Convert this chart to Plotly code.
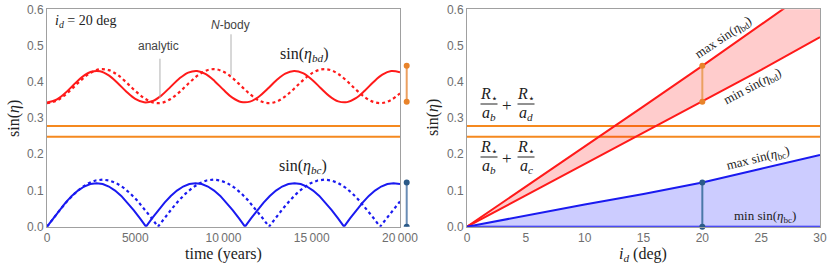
import plotly.graph_objects as go

# ---------------- Left panel data ----------------
time_red = list(range(0, 20001, 500))
red_analytic = [0.343, 0.3497, 0.3675, 0.3912, 0.4135, 0.4275, 0.4290, 0.4175, 0.3965, 0.3725,
                0.3527, 0.3433, 0.3471, 0.3629, 0.3859, 0.4091, 0.4254, 0.4298, 0.4210, 0.4017,
                0.3777, 0.3564, 0.3443, 0.3451, 0.3586, 0.3806, 0.4043, 0.4227, 0.4300, 0.4240,
                0.4065, 0.3830, 0.3605, 0.3459, 0.3438, 0.3547, 0.3753, 0.3994, 0.4195, 0.4295,
                0.4264]
red_nbody = [0.341, 0.3467, 0.3626, 0.3846, 0.4075, 0.4256, 0.4345, 0.4321, 0.4189, 0.3981,
             0.3749, 0.3549, 0.3430, 0.3420, 0.3523, 0.3714, 0.3944, 0.4160, 0.4306, 0.4349,
             0.4277, 0.4108, 0.3884, 0.3658, 0.3487, 0.3412, 0.3451, 0.3595, 0.3809, 0.4040,
             0.4232, 0.4338, 0.4332, 0.4216, 0.4018, 0.3785, 0.3577, 0.3442, 0.3414, 0.3500,
             0.3679]

time_blue_an = [0, 351, 701, 1052, 1403, 1753, 2104, 2454, 2805, 3156, 3506, 3857, 4208, 4558, 4909, 5259,
                5610, 5961, 6311, 6662, 7013, 7363, 7714, 8064, 8415, 8766, 9116, 9467, 9818, 10168, 10519, 10869,
                11220, 11571, 11921, 12272, 12623, 12973, 13324, 13674, 14025, 14376, 14726, 15077, 15428, 15778, 16129, 16479,
                16830, 17181, 17531, 17882, 18233, 18583, 18934, 19284, 19635, 20000]
blue_analytic = [0, 0.0234, 0.0459, 0.0667, 0.0849, 0.0998, 0.1109, 0.1177, 0.12, 0.1177, 0.1109, 0.0998, 0.0849, 0.0667, 0.0459, 0.0234,
                 0, 0.0234, 0.0459, 0.0667, 0.0849, 0.0998, 0.1109, 0.1177, 0.12, 0.1177, 0.1109, 0.0998, 0.0849, 0.0667, 0.0459, 0.0234,
                 0, 0.0234, 0.0459, 0.0667, 0.0849, 0.0998, 0.1109, 0.1177, 0.12, 0.1177, 0.1109, 0.0998, 0.0849, 0.0667, 0.0459, 0.0234,
                 0, 0.0234, 0.0459, 0.0667, 0.0849, 0.0998, 0.1109, 0.1177, 0.12, 0.1175]

time_blue_nb = [0, 393, 786, 1179, 1573, 1966, 2359, 2752, 3145, 3538, 3931, 4324, 4718, 5111, 5504, 5897,
                6290, 6683, 7076, 7469, 7863, 8256, 8649, 9042, 9435, 9828, 10221, 10614, 11008, 11401, 11794, 12187,
                12580, 12973, 13366, 13759, 14153, 14546, 14939, 15332, 15725, 16118, 16511, 16904, 17298, 17691, 18084, 18477,
                18870, 19263, 19656, 20000]
blue_nbody = [0, 0.0254, 0.0497, 0.0722, 0.0919, 0.1081, 0.1201, 0.1275, 0.13, 0.1275, 0.1201, 0.1081, 0.0919, 0.0722, 0.0497, 0.0254,
              0, 0.0254, 0.0497, 0.0722, 0.0919, 0.1081, 0.1201, 0.1275, 0.13, 0.1275, 0.1201, 0.1081, 0.0919, 0.0722, 0.0497, 0.0254,
              0, 0.0254, 0.0497, 0.0722, 0.0919, 0.1081, 0.1201, 0.1275, 0.13, 0.1275, 0.1201, 0.1081, 0.0919, 0.0722, 0.0497, 0.0254,
              0, 0.0254, 0.0497, 0.0697]

thresholds = [0.278, 0.248]          # R*/ab + R*/ad , R*/ab + R*/ac
bd_range_20 = [0.345, 0.444]
bc_range_20 = [0.0, 0.122]
time_ticks = [0, 5000, 10000, 15000, 20000]
time_ticklabels = ["0", "5000", "10\u2009000", "15\u2009000", "20\u2009000"]

# ---------------- Right panel data ----------------
incl = [0, 5, 10, 15, 20, 25, 30]
max_bd = [0, 0.110, 0.221, 0.332, 0.444, 0.558, 0.672]
min_bd = [0, 0.0862, 0.1725, 0.259, 0.345, 0.433, 0.523]
max_bc = [0, 0.031, 0.061, 0.090, 0.122, 0.160, 0.198]
min_bc = [0, 0, 0, 0, 0, 0, 0]
incl_sel = 20

RED = "#FF1A1A"
BLUE = "#1A1AF0"
ORANGE = "#F5891F"
BAR_OR_LINE, BAR_OR_DOT = "#EBA060", "#E8832A"
BAR_BL_LINE, BAR_BL_DOT = "#6A8DB5", "#2B5A88"
SERIF = "Liberation Serif, DejaVu Serif, serif"
SANS = "Liberation Sans, Arial, sans-serif"

W, H = 831, 269
top_px, bot_px = 9.3, 226.7
ydom = [1 - bot_px / H, 1 - top_px / H]
xdom1 = [47 / W, 400 / W]
xdom2 = [467 / W, 820 / W]

fig = go.Figure()

# Left panel traces
for th in thresholds:
    fig.add_trace(go.Scatter(x=[time_ticks[0], time_ticks[-1]], y=[th, th], mode="lines",
                             line=dict(color=ORANGE, width=2), xaxis="x", yaxis="y", showlegend=False))
fig.add_trace(go.Scatter(x=time_red, y=red_nbody, mode="lines", line=dict(color=RED, width=2.2, dash="dot", shape="spline"),
                         xaxis="x", yaxis="y", showlegend=False))
fig.add_trace(go.Scatter(x=time_red, y=red_analytic, mode="lines", line=dict(color=RED, width=2, shape="spline"),
                         xaxis="x", yaxis="y", showlegend=False))
fig.add_trace(go.Scatter(x=time_blue_nb, y=blue_nbody, mode="lines", line=dict(color=BLUE, width=2.2, dash="dot"),
                         xaxis="x", yaxis="y", showlegend=False))
fig.add_trace(go.Scatter(x=time_blue_an, y=blue_analytic, mode="lines", line=dict(color=BLUE, width=2),
                         xaxis="x", yaxis="y", showlegend=False))

# Left panel range bars (outside plot on the right)
bar_xp = 406.7 / W
for rng, lc, dc in [(bd_range_20, BAR_OR_LINE, BAR_OR_DOT), (bc_range_20, BAR_BL_LINE, BAR_BL_DOT)]:
    fig.add_shape(type="line", xref="paper", yref="y", x0=bar_xp, x1=bar_xp, y0=rng[0], y1=rng[1],
                  line=dict(color=lc, width=2), layer="above")
    for v in rng:
        fig.add_shape(type="circle", xref="paper", yref="y", xsizemode="pixel", ysizemode="pixel",
                      xanchor=bar_xp, yanchor=v, x0=-3, x1=3, y0=-3, y1=3,
                      fillcolor=dc, line=dict(color=dc, width=0), layer="above")

# Right panel traces
for th in thresholds:
    fig.add_trace(go.Scatter(x=[incl[0], incl[-1]], y=[th, th], mode="lines",
                             line=dict(color=ORANGE, width=2), xaxis="x2", yaxis="y2", showlegend=False))
fig.add_trace(go.Scatter(x=incl, y=min_bd, mode="lines", line=dict(color=RED, width=2),
                         xaxis="x2", yaxis="y2", showlegend=False))
fig.add_trace(go.Scatter(x=incl, y=max_bd, mode="lines", line=dict(color=RED, width=2),
                         fill="tonexty", fillcolor="rgba(255,0,0,0.2)", xaxis="x2", yaxis="y2", showlegend=False))
fig.add_trace(go.Scatter(x=incl, y=min_bc, mode="lines", line=dict(color=BLUE, width=2),
                         xaxis="x2", yaxis="y2", showlegend=False))
fig.add_trace(go.Scatter(x=incl, y=max_bc, mode="lines", line=dict(color=BLUE, width=2),
                         fill="tonexty", fillcolor="rgba(0,0,255,0.2)", xaxis="x2", yaxis="y2", showlegend=False))
fig.add_trace(go.Scatter(x=[incl_sel, incl_sel], y=bd_range_20, mode="lines+markers",
                         line=dict(color=BAR_OR_LINE, width=2), marker=dict(color=BAR_OR_DOT, size=6),
                         xaxis="x2", yaxis="y2", showlegend=False))
fig.add_trace(go.Scatter(x=[incl_sel, incl_sel], y=bc_range_20, mode="lines+markers",
                         line=dict(color="#4A78A8", width=2), marker=dict(color=BAR_BL_DOT, size=6),
                         cliponaxis=False, xaxis="x2", yaxis="y2", showlegend=False))

axis_common = dict(showline=True, mirror=True, linecolor="#A0A0A0", linewidth=1, showgrid=False,
                   zeroline=False, ticks="", automargin=False,
                   tickfont=dict(family=SANS, size=12, color="#6E6E6E"))

fig.update_layout(
    width=W, height=H, margin=dict(l=0, r=0, t=0, b=0, pad=0, autoexpand=False),
    paper_bgcolor="white", plot_bgcolor="white",
    xaxis=dict(domain=xdom1, range=[0, 20000], anchor="y", tickvals=time_ticks, ticktext=time_ticklabels, **axis_common),
    yaxis=dict(domain=ydom, range=[0, 0.6], anchor="x", tickvals=[0, 0.1, 0.2, 0.3, 0.4, 0.5, 0.6],
               tickformat=".1f", **axis_common),
    xaxis2=dict(domain=xdom2, range=[0, 30], anchor="y2", tickvals=incl, **axis_common),
    yaxis2=dict(domain=ydom, range=[0, 0.6], anchor="x2", tickvals=[0, 0.1, 0.2, 0.3, 0.4, 0.5, 0.6],
                tickformat=".1f", **axis_common),
)

def px2paper(px, py):
    return px / W, 1 - py / H

ann = []
# Axis titles
for (px, py, txt, ang) in [(14, 118, "sin(<i>η</i>)", -90), (433, 118, "sin(<i>η</i>)", -90),
                           (224, 254, "time (years)", 0), (643, 254, "<i>i<sub>d</sub></i> (deg)", 0)]:
    xp, yp = px2paper(px, py)
    ann.append(dict(x=xp, y=yp, xref="paper", yref="paper", text=txt, textangle=ang, showarrow=False,
                    font=dict(family=SERIF, size=16, color="#222"), xanchor="center", yanchor="middle"))

# Left panel annotations
ann += [
    dict(x=340, y=0.565, xref="x", yref="y", text="<i>i<sub>d</sub></i> = 20 deg", showarrow=False,
         xanchor="left", yanchor="middle", font=dict(family=SERIF, size=14, color="#222")),
    dict(x=6330, y=0.499, xref="x", yref="y", text="analytic", showarrow=False,
         font=dict(family=SANS, size=12, color="#444")),
    dict(x=10400, y=0.557, xref="x", yref="y", text="<i>N</i>-body", showarrow=False,
         font=dict(family=SANS, size=12, color="#444")),
    dict(x=14560, y=0.474, xref="x", yref="y", text="sin(<i>η<sub>bd</sub></i>)", showarrow=False,
         font=dict(family=SERIF, size=16, color="#222")),
    dict(x=14500, y=0.1675, xref="x", yref="y", text="sin(<i>η<sub>bc</sub></i>)", showarrow=False,
         font=dict(family=SERIF, size=16, color="#222")),
]
fig.add_shape(type="line", xref="x", yref="y", x0=6400, x1=6400, y0=0.4636, y1=0.3558,
              line=dict(color="#B0B0B0", width=1))
fig.add_shape(type="line", xref="x", yref="y", x0=10425, x1=10425, y0=0.531, y1=0.4187,
              line=dict(color="#B0B0B0", width=1))

# Right panel annotations
lab_font = dict(family=SERIF, size=13, color="#222")
ann += [
    dict(x=21.84, y=0.522, xref="x2", yref="y2", text="max sin(<i>η</i><sub>bd</sub>)", textangle=-34,
         showarrow=False, font=lab_font),
    dict(x=24.3, y=0.388, xref="x2", yref="y2", text="min sin(<i>η</i><sub>bd</sub>)", textangle=-28,
         showarrow=False, font=lab_font),
    dict(x=24.8, y=0.187, xref="x2", yref="y2", text="max sin(<i>η</i><sub>bc</sub>)", textangle=-14,
         showarrow=False, font=lab_font),
    dict(x=25.3, y=0.0275, xref="x2", yref="y2", text="min sin(<i>η</i><sub>bc</sub>)",
         showarrow=False, font=lab_font),
]

# Fractions R*/ab + R*/ad and R*/ab + R*/ac
def xd(px):
    return (px - 467) / (353 / 30)

def yd(py):
    return 0.6 - (py - 9.3) / 362.3

frac_font = dict(family=SERIF, size=16, color="#222")
for (num_py, bar_py, den_py, second) in [(94, 104, 113, "d"), (147, 157, 166, "c")]:
    for (cx, den) in [(489, "b"), (526, second)]:
        ann.append(dict(x=xd(cx), y=yd(num_py), xref="x2", yref="y2", text="<i>R</i><sub>⋆</sub>",
                        showarrow=False, font=frac_font))
        ann.append(dict(x=xd(cx), y=yd(den_py), xref="x2", yref="y2", text=f"<i>a<sub>{den}</sub></i>",
                        showarrow=False, font=frac_font))
        fig.add_shape(type="line", xref="x2", yref="y2", x0=xd(cx - 8.5), x1=xd(cx + 8.5),
                      y0=yd(bar_py), y1=yd(bar_py), line=dict(color="#222", width=1))
    ann.append(dict(x=xd(507), y=yd(bar_py + 1), xref="x2", yref="y2", text="+", showarrow=False,
                    font=dict(family=SERIF, size=17, color="#222")))

fig.update_layout(annotations=ann)
fig.write_html("out.html", config={"displayModeBar": False},
               post_script="document.body.style.margin='0px';document.body.style.overflow='hidden';")
